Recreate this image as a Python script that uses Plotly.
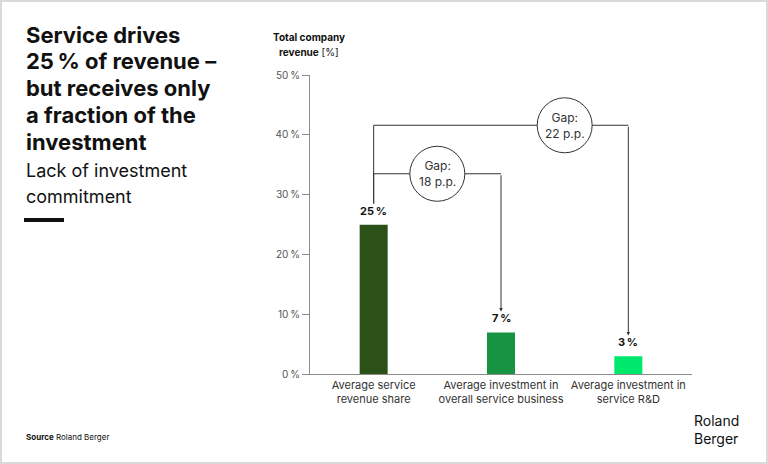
import plotly.graph_objects as go

# Data
categories = ["Average service<br>revenue share",
              "Average investment in<br>overall service business",
              "Average investment in<br>service R&D"]
values = [25, 7, 3]
bar_colors = ["#2b5119", "#169441", "#00e86b"]
value_labels = ["25\u202f%", "7\u202f%", "3\u202f%"]
tick_vals = [0, 10, 20, 30, 40, 50]
tick_text = ["0\u202f%", "10\u202f%", "20\u202f%", "30\u202f%", "40\u202f%", "50\u202f%"]

# gap brackets: (from bar, to bar, level of horizontal line, circle x, label)
gaps = [(0, 1, 33.5, 0.5, "Gap:<br>18 p.p."),
        (0, 2, 41.6, 1.5, "Gap:<br>22 p.p.")]
offset = 3.5   # bracket ends start this far above the bar value

W, H = 768, 464
FONT = "Inter"
LINE = "#333333"

x_idx = list(range(len(categories)))

fig = go.Figure()
fig.add_trace(go.Bar(
    x=x_idx, y=values, width=0.22,
    marker=dict(color=bar_colors, line=dict(width=0)),
    hoverinfo="skip", showlegend=False,
))

annotations = []
shapes = []

# bracket lines + arrows
for a, b, level, cx, label in gaps:
    fig.add_trace(go.Scatter(
        x=[a, a, b], y=[values[a] + offset, level, level],
        mode="lines", line=dict(color=LINE, width=1),
        hoverinfo="skip", showlegend=False,
    ))
    annotations.append(dict(
        x=b, y=values[b] + offset, ax=b, ay=level,
        xref="x", yref="y", axref="x", ayref="y",
        showarrow=True, arrowhead=2, arrowsize=0.7, arrowwidth=1,
        arrowcolor=LINE, text="",
    ))
    shapes.append(dict(
        type="circle", xref="x", yref="y",
        xsizemode="pixel", ysizemode="pixel",
        xanchor=cx, yanchor=level,
        x0=-27.5, x1=27.5, y0=-27.5, y1=27.5,
        fillcolor="white", line=dict(color=LINE, width=1), layer="above",
    ))
    annotations.append(dict(
        x=cx, y=level, xref="x", yref="y", text=label, showarrow=False,
        font=dict(family=FONT, size=12, color=LINE), align="center",
    ))

# value labels on bars
for i, v in enumerate(values):
    annotations.append(dict(
        x=i, y=v, xref="x", yref="y", text="<b>%s</b>" % value_labels[i],
        showarrow=False, yanchor="bottom", yshift=5,
        font=dict(family=FONT, size=11, color="#111111"),
    ))

def px(x, y):
    return x / W, 1 - y / H

# title block
title_lines = ["Service drives", "25\u202f% of revenue \u2013", "but receives only",
               "a fraction of the", "investment"]
for k, line in enumerate(title_lines):
    xp, yp = px(24, 34.5 + k * 26.8)
    annotations.append(dict(
        x=xp, y=yp, xref="paper", yref="paper", xanchor="left", yanchor="middle",
        text="<b>%s</b>" % line, showarrow=False,
        font=dict(family=FONT, size=22, color="#111111"),
    ))
sub_lines = ["Lack of investment", "commitment"]
for k, line in enumerate(sub_lines):
    xp, yp = px(24, 170 + k * 26)
    annotations.append(dict(
        x=xp, y=yp, xref="paper", yref="paper", xanchor="left", yanchor="middle",
        text=line, showarrow=False,
        font=dict(family=FONT, size=18, color="#111111"),
    ))

# axis title
for k, line in enumerate(["<b>Total company</b>", "<b>revenue</b> [%]"]):
    xp, yp = px(309, 38 + k * 14)
    annotations.append(dict(
        x=xp, y=yp, xref="paper", yref="paper", xanchor="center", yanchor="middle",
        text=line, showarrow=False, font=dict(family=FONT, size=10, color="#111111"),
    ))

# source and logo
xp, yp = px(24, 437)
annotations.append(dict(
    x=xp, y=yp, xref="paper", yref="paper", xanchor="left", yanchor="middle",
    text="<b>Source</b> Roland Berger", showarrow=False,
    font=dict(family=FONT, size=8, color="#111111"),
))
xp, yp = px(692, 429)
annotations.append(dict(
    x=xp, y=yp, xref="paper", yref="paper", xanchor="left", yanchor="middle",
    text="Roland<br>Berger", showarrow=False, align="left",
    font=dict(family=FONT, size=14, color="#111111"),
))

# black dash under subtitle, frame
shapes.append(dict(type="rect", xref="paper", yref="paper",
                   x0=24 / W, x1=64 / W, y0=1 - 222 / H, y1=1 - 218 / H,
                   fillcolor="#111111", line=dict(width=0)))
shapes.append(dict(type="rect", xref="paper", yref="paper",
                   x0=1 / W, x1=1 - 1 / W, y0=1 / H, y1=1 - 1 / H,
                   line=dict(color="#d9d9d9", width=2)))

fig.update_layout(
    width=W, height=H, margin=dict(l=0, r=0, t=0, b=0, pad=0, autoexpand=False),
    paper_bgcolor="white", plot_bgcolor="white",
    font=dict(family=FONT, color="#333333"),
    annotations=annotations, shapes=shapes, showlegend=False,
    bargap=0.78,
)
fig.update_xaxes(
    domain=[310 / W, 692 / W], range=[-0.5, 2.5],
    tickvals=x_idx, ticktext=categories, automargin=False,
    showgrid=False, zeroline=False, showline=True, linecolor="#8c8c8c", linewidth=1,
    ticks="", tickfont=dict(family=FONT, size=11, color="#333333"),
    fixedrange=True,
)
fig.update_yaxes(
    domain=[89.7 / H, 389 / H], range=[0, 50],
    tickvals=tick_vals, ticktext=tick_text, automargin=False,
    showgrid=False, zeroline=False, showline=True, linecolor="#8c8c8c", linewidth=1,
    ticks="outside", ticklen=7, tickcolor="#8c8c8c",
    tickfont=dict(family=FONT, size=10, color="#555555"),
    fixedrange=True,
)

# remove the page margin and any scrollbars so the figure sits at 0,0
page_fix = ("document.documentElement.style.overflow='hidden';"
            "document.body.style.margin='0';document.body.style.overflow='hidden';"
            "var g=document.getElementById('{plot_id}');g.style.display='block';"
            "g.parentNode.style.lineHeight='0';window.scrollTo(0,0);")
fig.write_html("out.html", config={"displayModeBar": False}, post_script=page_fix)
